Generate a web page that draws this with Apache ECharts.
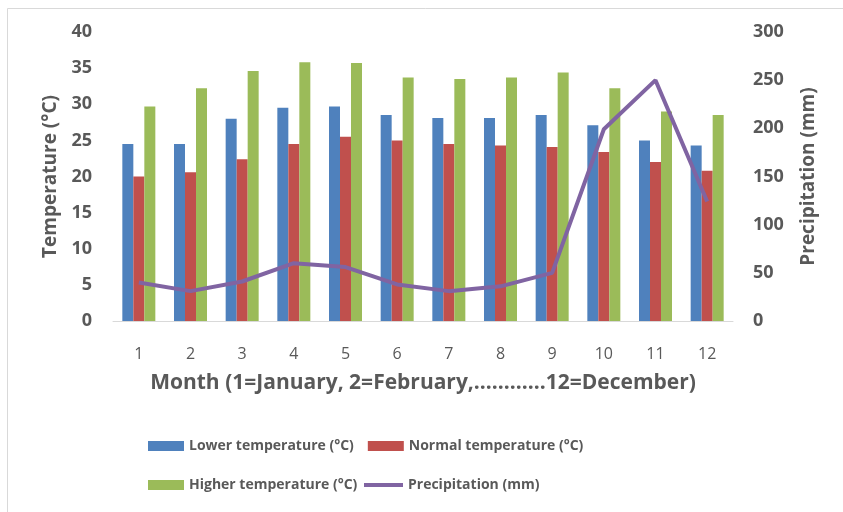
<!DOCTYPE html>
<html>
<head>
<meta charset="utf-8">
<style>
  html, body { margin: 0; padding: 0; background: #fff; }
  #chart { width: 843px; height: 512px; }
</style>
<script src="https://cdn.jsdelivr.net/npm/echarts@6/dist/echarts.min.js"></script>
</head>
<body>
<div id="chart"></div>
<script>
// Monthly temperatures (°C) and precipitation (mm)
const months = ['1', '2', '3', '4', '5', '6', '7', '8', '9', '10', '11', '12'];
const lowerTemp  = [24.5, 24.5, 28.0, 29.5, 29.7, 28.5, 28.1, 28.1, 28.5, 27.1, 25.0, 24.3];
const normalTemp = [20.0, 20.6, 22.4, 24.5, 25.5, 25.0, 24.5, 24.3, 24.1, 23.4, 22.0, 20.8];
const higherTemp = [29.7, 32.2, 34.6, 35.8, 35.7, 33.7, 33.5, 33.7, 34.4, 32.2, 29.0, 28.5];
const precipitation = [40, 31, 41, 60, 56, 38, 31, 36, 50, 199, 250, 124];

const tempTicks = { min: 0, max: 40, interval: 5 };
const precipTicks = { min: 0, max: 300, interval: 50 };

const FONT = 'Open Sans';
const TEXT = '#595959';
const PURPLE = '#8064A2';

const chart = echarts.init(document.getElementById('chart'), null, { renderer: 'canvas' });

const barSeries = (name, data, color) => ({
  name, type: 'bar', yAxisIndex: 0, data,
  barWidth: 11, barGap: '0%',
  itemStyle: { color }
});

const legendText = { fontFamily: FONT, fontWeight: 'bold', fontSize: 14, color: TEXT };
const titleText = { fontFamily: FONT, fontWeight: 'bold', fontSize: 19, color: TEXT };
const tickText = { fontFamily: FONT, fontWeight: 'bold', fontSize: 18, color: TEXT };

chart.setOption({
  animation: false,
  backgroundColor: '#fff',
  graphic: [{
    type: 'rect',
    shape: { x: 7.5, y: 8.5, width: 900, height: 600 },
    style: { fill: 'none', stroke: '#d9d9d9', lineWidth: 1 }
  }],
  grid: { left: 113, right: 110, top: 32, bottom: 191 },
  xAxis: {
    type: 'category',
    data: months,
    name: 'Month (1=January, 2=February,............12=December)',
    nameLocation: 'middle',
    nameGap: 52,
    nameTextStyle: { ...titleText, fontSize: 21 },
    axisLine: { lineStyle: { color: '#d9d9d9', width: 1 } },
    axisTick: { show: false },
    axisLabel: { fontFamily: FONT, fontSize: 16, color: TEXT, margin: 25 }
  },
  yAxis: [{
    type: 'value',
    ...tempTicks,
    name: 'Temperature (°C)',
    nameLocation: 'middle',
    nameGap: 51,
    nameRotate: 90,
    nameTextStyle: titleText,
    splitLine: { show: false },
    axisLine: { show: false },
    axisTick: { show: false },
    axisLabel: { ...tickText, margin: 21 }
  }, {
    type: 'value',
    ...precipTicks,
    position: 'right',
    name: 'Precipitation (mm)',
    nameLocation: 'middle',
    nameGap: 66,
    nameRotate: 90,
    nameTextStyle: titleText,
    splitLine: { show: false },
    axisLine: { show: false },
    axisTick: { show: false },
    axisLabel: { ...tickText, margin: 20 }
  }],
  legend: [{
    data: [
      { name: 'Lower temperature (°C)', icon: 'rect' },
      { name: 'Normal temperature (°C)', icon: 'rect' }
    ],
    left: 148, top: 439, padding: 0,
    itemWidth: 36, itemHeight: 10, itemGap: 14,
    textStyle: legendText
  }, {
    data: [{ name: 'Higher temperature (°C)', icon: 'rect' }],
    left: 148, top: 478, padding: 0,
    itemWidth: 36, itemHeight: 10,
    textStyle: legendText
  }, {
    data: [{ name: 'Precipitation (mm)', icon: 'rect' }],
    left: 364, top: 478, padding: 0,
    itemWidth: 39, itemHeight: 4,
    textStyle: legendText
  }],
  series: [
    barSeries('Lower temperature (°C)', lowerTemp, '#4F81BD'),
    barSeries('Normal temperature (°C)', normalTemp, '#C0504D'),
    barSeries('Higher temperature (°C)', higherTemp, '#9BBB59'),
    {
      name: 'Precipitation (mm)', type: 'line', yAxisIndex: 1,
      data: precipitation,
      symbol: 'none',
      lineStyle: { color: PURPLE, width: 4 },
      itemStyle: { color: PURPLE }
    }
  ]
});
</script>
</body>
</html>
